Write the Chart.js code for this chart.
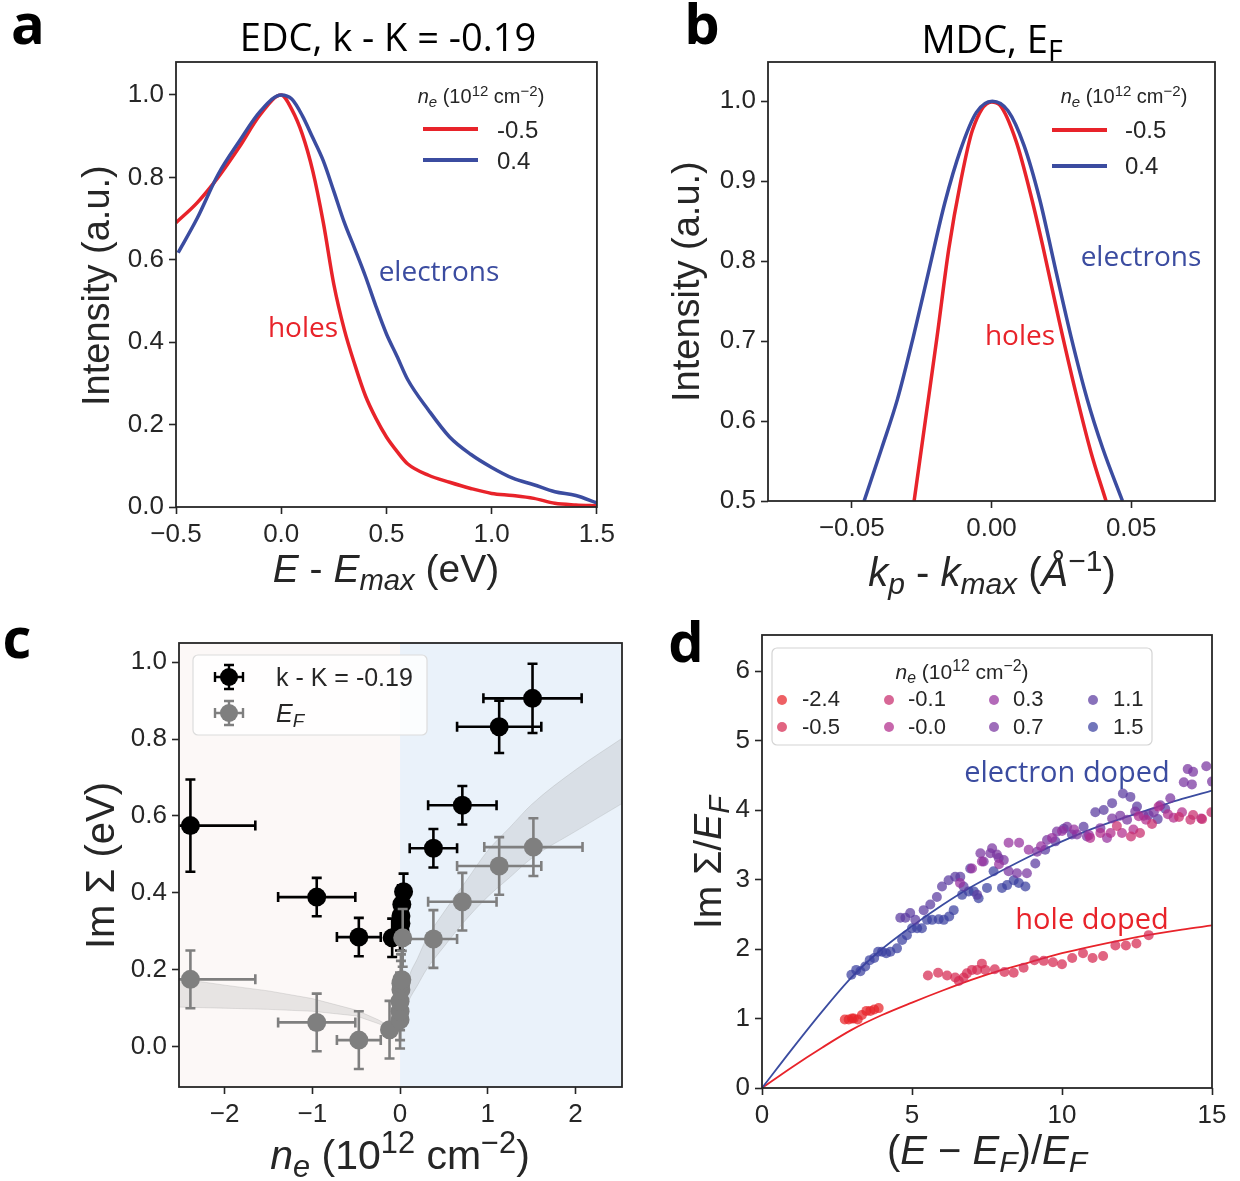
<!DOCTYPE html>
<html>
<head>
<meta charset="utf-8">
<script src="https://cdn.jsdelivr.net/npm/chart.js@4.4.0/dist/chart.umd.min.js"></script>
<style>
    body { margin: 0; background: #fff; }
    #page { position: relative; width: 1240px; height: 1181px; overflow: hidden; font-family: "Liberation Sans", Arial, sans-serif; color: #222; }
    canvas { position: absolute; }
    .t { position: absolute; white-space: nowrap; line-height: 1; }
    .t sub { font-size: 0.75em; vertical-align: -0.28em; line-height: 0; }
    .t sup { font-size: 0.75em; vertical-align: 0.5em; line-height: 0; }
    .os { font-family: "Open Sans", sans-serif; }
</style>
</head>
<body>
<div id="page">
    <canvas id="cA" width="620" height="600" style="left:0;top:0"></canvas>
    <canvas id="cB" width="620" height="600" style="left:620px;top:0"></canvas>
    <canvas id="cC" width="640" height="581" style="left:0;top:600px"></canvas>
    <canvas id="cD" width="600" height="581" style="left:640px;top:600px"></canvas>
</div>
<script>
// ---- panel a : EDC at k - K = -0.19
const edcE = [-0.5, -0.4, -0.3, -0.2, -0.1, 0, 0.05, 0.1, 0.15, 0.2, 0.25, 0.3, 0.35, 0.4, 0.45, 0.5, 0.55, 0.6, 0.7, 0.8, 0.9, 1.0, 1.1, 1.2, 1.3, 1.4, 1.5];
const edcHoles = [0.69, 0.738, 0.80, 0.873, 0.952, 1.0, 0.965, 0.905, 0.815, 0.69, 0.54, 0.43, 0.345, 0.27, 0.215, 0.17, 0.135, 0.105, 0.077, 0.06, 0.045, 0.033, 0.028, 0.021, 0.009, 0.005, 0.003];
const edcElectrons = [0.617, 0.70, 0.807, 0.887, 0.96, 1.0, 0.99, 0.95, 0.896, 0.84, 0.766, 0.69, 0.626, 0.56, 0.487, 0.42, 0.366, 0.31, 0.235, 0.17, 0.128, 0.096, 0.07, 0.054, 0.037, 0.028, 0.01];
const edcTicksX = [-0.5, 0, 0.5, 1.0, 1.5];
const edcTicksY = [0, 0.2, 0.4, 0.6, 0.8, 1.0];

// ---- panel b : MDC at E_F
const mdcHolesK = [-0.0277, -0.0237, -0.0195, -0.0153, -0.011, -0.0068, 0, 0.003, 0.0088, 0.0144, 0.0186, 0.0243, 0.030, 0.0356, 0.041];
const mdcHolesI = [0.5, 0.6, 0.705, 0.815, 0.90, 0.964, 0.999, 0.995, 0.95, 0.878, 0.815, 0.724, 0.638, 0.561, 0.5];
const mdcElecK = [-0.0456, -0.0393, -0.0336, -0.028, -0.0223, -0.0167, -0.011, -0.0054, 0.0003, 0.0059, 0.0116, 0.0172, 0.0229, 0.0285, 0.0342, 0.0398, 0.0469];
const mdcElecI = [0.5, 0.566, 0.628, 0.705, 0.79, 0.873, 0.94, 0.986, 1.0, 0.988, 0.945, 0.878, 0.79, 0.705, 0.628, 0.566, 0.5];
const mdcTicksX = [-0.05, 0, 0.05];
const mdcTicksY = [0.5, 0.6, 0.7, 0.8, 0.9, 1.0];

// ---- panel c : Im Sigma vs n_e
const kkN = [-2.39, -0.95, -0.47, -0.09, 0.00, 0.01, 0.01, 0.02, 0.04, 0.38, 0.71, 1.13, 1.51];
const kkIm = [0.575, 0.389, 0.285, 0.283, 0.30, 0.32, 0.34, 0.37, 0.403, 0.516, 0.628, 0.832, 0.906];
const kkNErr = [0.74, 0.44, 0.25, 0.05, 0.03, 0.03, 0.03, 0.03, 0.05, 0.27, 0.39, 0.48, 0.56];
const kkImErr = [0.12, 0.05, 0.05, 0.05, 0.05, 0.05, 0.05, 0.05, 0.047, 0.05, 0.05, 0.068, 0.09];
const efN = [-2.39, -0.95, -0.47, -0.12, 0.00, 0.00, 0.00, 0.01, 0.01, 0.02, 0.03, 0.38, 0.71, 1.13, 1.52];
const efIm = [0.175, 0.063, 0.017, 0.044, 0.07, 0.092, 0.118, 0.148, 0.165, 0.174, 0.283, 0.28, 0.377, 0.47, 0.519];
const efNErr = [0.74, 0.44, 0.25, 0.05, 0.03, 0.03, 0.03, 0.03, 0.03, 0.03, 0.03, 0.27, 0.39, 0.48, 0.56];
const efImErr = [0.075, 0.075, 0.075, 0.075, 0.075, 0.075, 0.075, 0.075, 0.075, 0.075, 0.075, 0.075, 0.075, 0.075, 0.075];
const bandLeftN = [-2.55, -2.0, -1.5, -1.0, -0.5, -0.25, -0.1];
const bandLeftLo = [0.103, 0.10, 0.097, 0.092, 0.08, 0.06, 0.045];
const bandLeftHi = [0.178, 0.16, 0.145, 0.125, 0.095, 0.07, 0.05];
const bandRightN = [0.0, 0.05, 0.1, 0.2, 0.3, 0.5, 0.75, 1.0, 1.25, 1.5, 2.0, 2.55];
const bandRightLo = [0.04, 0.09, 0.12, 0.16, 0.20, 0.26, 0.33, 0.39, 0.44, 0.49, 0.56, 0.635];
const bandRightHi = [0.05, 0.13, 0.18, 0.23, 0.28, 0.35, 0.43, 0.51, 0.57, 0.63, 0.72, 0.805];
const imTicksX = [-2, -1, 0, 1, 2];
const imTicksY = [0, 0.2, 0.4, 0.6, 0.8, 1.0];

// ---- panel d : Im Sigma / E_F vs (E - E_F)/E_F
const dopings = ['-2.4', '-0.5', '-0.1', '-0.0', '0.3', '0.7', '1.1', '1.5'];
const dopingColors = ['rgba(232,34,40,0.72)', 'rgba(214,40,80,0.72)', 'rgba(200,45,110,0.72)', 'rgba(178,45,140,0.72)',
    'rgba(150,48,158,0.72)', 'rgba(120,52,160,0.72)', 'rgba(90,58,160,0.72)', 'rgba(58,64,160,0.72)'];
const sigX = [
    [2.76, 2.89, 3.0, 3.06, 3.19, 3.33, 3.48, 3.61, 3.74, 3.89],
    [5.53, 5.87, 6.17, 6.44, 6.56, 6.72, 6.83, 7.0, 7.17, 7.33, 7.44, 7.76, 8.08, 8.39, 8.72, 9.08, 9.39, 9.70, 10.0, 10.34, 10.7, 11.02, 11.37, 11.78, 12.13, 12.48, 12.89],
    [11.83, 12.3, 12.6, 13.0, 13.9, 14.28, 14.37, 14.67, 14.98],
    [10.94, 11.28, 11.62, 12.0, 12.38, 12.56, 12.8, 13.22, 13.53, 13.72, 14.0, 14.64],
    [6.6, 7.0, 7.33, 7.9, 8.22, 8.57, 8.89, 9.3, 9.67, 10.0, 10.4, 10.9, 11.5],
    [7.28, 7.39, 7.61, 7.67, 7.83, 7.89, 8.06, 8.22, 8.5, 8.83, 9.17, 9.5, 9.83, 10.17, 10.5, 10.83, 11.28, 11.67, 11.94, 12.17, 12.44, 12.72, 13.06, 13.28, 13.61, 14.06, 14.19, 14.37, 14.33, 14.81, 15.0],
    [4.61, 4.78, 4.94, 5.11, 5.39, 5.61, 5.83, 6.0, 6.22, 6.44, 6.61, 6.72, 6.94, 7.17, 9.11, 9.44, 9.78, 10.06, 10.33, 10.72, 11.11, 11.39, 11.67, 12.03, 12.28, 12.5, 12.89, 13.19, 13.44],
    [2.98, 3.14, 3.28, 3.44, 3.59, 3.74, 3.87, 4.0, 4.14, 4.28, 4.5, 4.67, 4.83, 5.0, 5.17, 5.33, 5.5, 5.67, 5.89, 6.06, 6.24, 6.39, 6.67, 6.89, 7.06, 7.22, 7.5, 7.72, 8.0, 8.17, 8.39, 8.56, 8.78]
];
const sigY = [
    [0.985, 0.985, 1.0, 1.0, 0.985, 1.05, 1.11, 1.11, 1.13, 1.15],
    [1.62, 1.66, 1.62, 1.59, 1.54, 1.59, 1.65, 1.70, 1.70, 1.79, 1.70, 1.71, 1.67, 1.66, 1.73, 1.84, 1.83, 1.81, 1.78, 1.87, 1.94, 1.87, 1.90, 2.05, 2.05, 2.08, 2.20],
    [3.77, 3.62, 3.67, 3.80, 3.90, 3.86, 3.93, 3.87, 3.97],
    [3.60, 3.67, 3.67, 3.67, 3.72, 3.91, 3.86, 4.05, 3.94, 3.89, 3.97, 3.88],
    [2.95, 3.16, 3.26, 3.22, 3.53, 3.53, 3.43, 3.48, 3.60, 3.70, 3.72, 3.64, 3.60],
    [3.38, 3.26, 3.38, 3.45, 3.36, 3.31, 3.28, 3.12, 3.09, 3.09, 3.40, 3.57, 3.69, 3.76, 3.65, 3.62, 3.74, 3.88, 3.92, 3.86, 3.98, 3.92, 3.97, 4.07, 4.17, 4.40, 4.59, 4.55, 4.37, 4.63, 4.41],
    [2.45, 2.45, 2.52, 2.42, 2.56, 2.64, 2.75, 2.90, 2.99, 3.04, 3.04, 2.90, 3.16, 2.78, 3.23, 3.43, 3.55, 3.73, 3.65, 3.76, 3.97, 4.0, 4.1, 4.24, 4.19, 4.05, 3.93, 3.87, 4.02],
    [1.63, 1.70, 1.68, 1.75, 1.84, 1.87, 1.96, 1.96, 1.94, 1.96, 2.01, 2.13, 2.20, 2.30, 2.30, 2.30, 2.42, 2.42, 2.43, 2.42, 2.47, 2.56, 2.78, 2.83, 2.83, 2.73, 2.88, 3.12, 2.88, 2.92, 2.99, 2.95, 2.90]
];
const fitX = [0, 1, 2, 3, 4, 5, 6, 7, 8, 9, 10, 11, 12, 13, 14, 15];
const fitElectron = [0, 0.56, 1.1, 1.6, 2.0, 2.33, 2.63, 2.9, 3.13, 3.35, 3.55, 3.73, 3.88, 4.02, 4.16, 4.28];
const fitHole = [0, 0.3, 0.58, 0.84, 1.05, 1.23, 1.4, 1.56, 1.7, 1.82, 1.94, 2.04, 2.13, 2.21, 2.28, 2.34];
const sigTicksX = [0, 5, 10, 15];
const sigTicksY = [0, 1, 2, 3, 4, 5, 6];

const RED = '#e8232a';
const BLUE = '#3b4ca0';
const INK = '#262626';

function pts(xs, ys) { return xs.map((x, i) => ({ x: x, y: ys[i] })); }
function fmt(v, dec) { return v.toFixed(dec).replace('-', '\u2212'); }

function axis(min, max, ticks, dec, size, horizontal) {
    return {
        type: 'linear', min: min, max: max,
        afterBuildTicks: function (s) { s.ticks = ticks.map(v => ({ value: v })); },
        afterFit: function (s) { if (horizontal) s.height = size; else s.width = size; },
        grid: { drawOnChartArea: false, drawTicks: true, tickLength: 7, tickWidth: 1.6, tickColor: INK },
        border: { display: false },
        ticks: { font: { family: '"Liberation Sans", Arial, sans-serif', size: 26 }, color: INK, padding: 5, maxRotation: 0, autoSkip: false, callback: v => fmt(v, dec) }
    };
}

const framePlugin = {
    id: 'frame',
    afterDatasetsDraw: function (chart) {
        const a = chart.chartArea, c = chart.ctx;
        c.save();
        c.strokeStyle = INK;
        c.lineWidth = 1.8;
        c.strokeRect(a.left, a.top, a.right - a.left, a.bottom - a.top);
        c.restore();
    }
};

function baseOptions(pad, xAx, yAx) {
    return {
        responsive: false, maintainAspectRatio: false, animation: false,
        layout: { padding: pad },
        plugins: { legend: { display: false }, tooltip: { enabled: false } },
        scales: { x: xAx, y: yAx }
    };
}

function lineLegend(x0, x1, ys, colors) {
    return {
        id: 'lineLegend',
        afterDraw: function (chart) {
            const c = chart.ctx;
            c.save();
            c.lineWidth = 4;
            ys.forEach((y, i) => {
                c.strokeStyle = colors[i];
                c.beginPath(); c.moveTo(x0, y); c.lineTo(x1, y); c.stroke();
            });
            c.restore();
        }
    };
}

// panel a
new Chart(document.getElementById('cA'), {
    type: 'scatter',
    data: {
        datasets: [
            { data: pts(edcE, edcHoles), showLine: true, borderColor: RED, borderWidth: 3.5, pointRadius: 0, cubicInterpolationMode: 'monotone', order: 1 },
            { data: pts(edcE, edcElectrons).map((p, i) => i === 0 ? { x: -0.49, y: p.y } : p), showLine: true, borderColor: BLUE, borderWidth: 3.5, pointRadius: 0, cubicInterpolationMode: 'monotone', order: 0 }
        ]
    },
    options: baseOptions({ left: 0, top: 62, right: 23, bottom: 0 },
        axis(-0.5, 1.5, edcTicksX, 1, 93, true), axis(0, 1.08, edcTicksY, 1, 176, false)),
    plugins: [framePlugin, lineLegend(423, 478, [129, 160], [RED, BLUE])]
});

// panel b
new Chart(document.getElementById('cB'), {
    type: 'scatter',
    data: {
        datasets: [
            { data: pts(mdcHolesK, mdcHolesI), showLine: true, borderColor: RED, borderWidth: 3.5, pointRadius: 0, cubicInterpolationMode: 'monotone', order: 1 },
            { data: pts(mdcElecK, mdcElecI), showLine: true, borderColor: BLUE, borderWidth: 3.5, pointRadius: 0, cubicInterpolationMode: 'monotone', order: 0 }
        ]
    },
    options: baseOptions({ left: 0, top: 62, right: 25, bottom: 0 },
        axis(-0.08, 0.08, mdcTicksX, 2, 99, true), axis(0.5, 1.049, mdcTicksY, 1, 148, false)),
    plugins: [framePlugin, lineLegend(432, 487, [130, 166], [RED, BLUE])]
});

// panel c
function drawErrBar(c, px, py, xl, xr, yt, yb, color, cap) {
    c.strokeStyle = color;
    c.beginPath();
    c.moveTo(xl, py); c.lineTo(xr, py);
    c.moveTo(px, yt); c.lineTo(px, yb);
    c.moveTo(xl, py - cap); c.lineTo(xl, py + cap);
    c.moveTo(xr, py - cap); c.lineTo(xr, py + cap);
    c.moveTo(px - cap, yt); c.lineTo(px + cap, yt);
    c.moveTo(px - cap, yb); c.lineTo(px + cap, yb);
    c.stroke();
}

const errorBarPlugin = {
    id: 'errorBars',
    beforeDatasetsDraw: function (chart) {
        const a = chart.chartArea, c = chart.ctx, xs = chart.scales.x;
        const x0 = xs.getPixelForValue(0);
        c.save();
        c.fillStyle = '#fcf8f7';
        c.fillRect(a.left, a.top, x0 - a.left, a.bottom - a.top);
        c.fillStyle = '#eaf2fa';
        c.fillRect(x0, a.top, a.right - x0, a.bottom - a.top);
        c.restore();
    },
    beforeDatasetDraw: function (chart, args) {
        const ds = chart.data.datasets[args.index];
        if (!ds.xErr) return;
        const a = chart.chartArea, c = chart.ctx, xs = chart.scales.x, ys = chart.scales.y;
        c.save();
        c.beginPath(); c.rect(a.left, a.top, a.right - a.left, a.bottom - a.top); c.clip();
        c.lineWidth = 2.6;
        ds.data.forEach((p, i) => {
            drawErrBar(c, xs.getPixelForValue(p.x), ys.getPixelForValue(p.y),
                xs.getPixelForValue(p.x - ds.xErr[i]), xs.getPixelForValue(p.x + ds.xErr[i]),
                ys.getPixelForValue(p.y + ds.yErr[i]), ys.getPixelForValue(p.y - ds.yErr[i]), ds.backgroundColor, 5);
        });
        c.restore();
    },
    afterDraw: function (chart) {
        const c = chart.ctx;
        c.save();
        c.fillStyle = 'rgba(255,255,255,0.8)';
        c.strokeStyle = '#dcdcdc';
        c.lineWidth = 1.2;
        c.beginPath(); c.roundRect(193, 55, 234, 80, 5); c.fill(); c.stroke();
        c.lineWidth = 2.4;
        [['#000000', 77], ['#7f7f7f', 113]].forEach(([col, y]) => {
            drawErrBar(c, 229, y, 215, 243, y - 12, y + 12, col, 5);
            c.fillStyle = col;
            c.beginPath(); c.arc(229, y, 9, 0, Math.PI * 2); c.fill();
        });
        c.restore();
    }
};

const bandStyle = { type: 'line', pointRadius: 0, borderWidth: 1, borderColor: 'rgba(150,150,150,0.25)', backgroundColor: 'rgba(150,150,150,0.2)', order: 2 };
new Chart(document.getElementById('cC'), {
    type: 'scatter',
    data: {
        datasets: [
            Object.assign({ data: pts(bandLeftN, bandLeftHi), fill: '+1' }, bandStyle),
            Object.assign({ data: pts(bandLeftN, bandLeftLo), fill: false }, bandStyle),
            Object.assign({ data: pts(bandRightN, bandRightHi), fill: '+1', cubicInterpolationMode: 'monotone' }, bandStyle),
            Object.assign({ data: pts(bandRightN, bandRightLo), fill: false, cubicInterpolationMode: 'monotone' }, bandStyle),
            { data: pts(kkN, kkIm), xErr: kkNErr, yErr: kkImErr, backgroundColor: '#000000', borderWidth: 0, pointRadius: 9.5, order: 1 },
            { data: pts(efN, efIm), xErr: efNErr, yErr: efImErr, backgroundColor: '#7f7f7f', borderWidth: 0, pointRadius: 9.5, order: 0 }
        ]
    },
    options: baseOptions({ left: 0, top: 43, right: 18, bottom: 0 },
        axis(-2.52, 2.53, imTicksX, 0, 94, true), axis(-0.105, 1.05, imTicksY, 1, 179, false)),
    plugins: [errorBarPlugin, framePlugin]
});

// panel d
const dotLegend = {
    id: 'dotLegend',
    afterDraw: function (chart) {
        const c = chart.ctx;
        c.save();
        c.fillStyle = 'rgba(255,255,255,0.8)';
        c.strokeStyle = '#d4d4d4';
        c.lineWidth = 1.2;
        c.beginPath(); c.roundRect(132, 48, 380, 97, 5); c.fill(); c.stroke();
        const cx = [142, 249, 354, 453], cy = [100, 127];
        dopingColors.forEach((col, i) => {
            c.fillStyle = col;
            c.beginPath(); c.arc(cx[Math.floor(i / 2)], cy[i % 2], 5, 0, Math.PI * 2); c.fill();
        });
        c.restore();
    }
};

const dDatasets = dopings.map((d, i) => ({ data: pts(sigX[i], sigY[i]), backgroundColor: dopingColors[i], borderWidth: 0, pointRadius: 5, order: 0 }));
dDatasets.push({ type: 'line', data: pts(fitX, fitElectron), borderColor: BLUE, borderWidth: 1.8, pointRadius: 0, cubicInterpolationMode: 'monotone', order: 1 });
dDatasets.push({ type: 'line', data: pts(fitX, fitHole), borderColor: RED, borderWidth: 1.8, pointRadius: 0, cubicInterpolationMode: 'monotone', order: 1 });

new Chart(document.getElementById('cD'), {
    type: 'scatter',
    data: { datasets: dDatasets },
    options: baseOptions({ left: 0, top: 35, right: 28, bottom: 0 },
        axis(0, 15, sigTicksX, 0, 93, true), axis(0, 6.52, sigTicksY, 0, 122, false)),
    plugins: [framePlugin, dotLegend]
});

// ---- text
const page = document.getElementById('page');
function addText(html, x, y, size, opts) {
    opts = opts || {};
    const el = document.createElement('div');
    el.className = 't' + (opts.os ? ' os' : '');
    el.innerHTML = html;
    el.style.fontSize = size + 'px';
    if (opts.bold) el.style.fontWeight = '700';
    el.style.color = opts.color || INK;
    el.style.left = x + 'px';
    el.style.top = y + 'px';
    const tx = opts.left ? '0' : '-50%';
    el.style.transform = 'translate(' + tx + ',-50%)';
    page.appendChild(el);
    if (opts.rot) {
        el.style.transformOrigin = '0 0';
        el.style.transform = 'rotate(-90deg)';
        el.style.left = (x - el.offsetHeight / 2) + 'px';
        el.style.top = (y + el.offsetWidth / 2) + 'px';
    }
}
const neLabel = '<i>n<sub>e</sub></i> (10<sup>12</sup> cm<sup>\u22122</sup>)';

addText('a', 28, 22, 56, { os: true, bold: true, color: '#000' });
addText('b', 702, 22, 56, { os: true, bold: true, color: '#000' });
addText('c', 17, 636, 56, { os: true, bold: true, color: '#000' });
addText('d', 686, 640, 56, { os: true, bold: true, color: '#000' });
addText('EDC, k - K = -0.19', 388, 36, 38, { os: true, color: '#000' });
addText('MDC, E<sub>F</sub>', 992, 38, 38, { os: true, color: '#000' });

addText('Intensity (a.u.)', 96, 285, 38, { rot: true });
addText('<i>E</i> - <i>E<sub>max</sub></i> (eV)', 386, 568, 39);
addText(neLabel, 481, 96, 20);
addText('-0.5', 497, 130, 24, { left: true });
addText('0.4', 497, 161, 24, { left: true });
addText('electrons', 439, 270, 28, { os: true, color: BLUE });
addText('holes', 303, 326, 28, { os: true, color: RED });

addText('Intensity (a.u.)', 686, 281, 38, { rot: true });
addText('<i>k<sub>p</sub></i> - <i>k<sub>max</sub></i> (<i>\u00c5</i><sup>\u22121</sup>)', 992, 572, 40);
addText(neLabel, 1124, 96, 20);
addText('-0.5', 1125, 130, 24, { left: true });
addText('0.4', 1125, 166, 24, { left: true });
addText('electrons', 1141, 255, 28, { os: true, color: BLUE });
addText('holes', 1020, 334, 28, { os: true, color: RED });

addText('Im \u03a3 (eV)', 100, 865, 40, { rot: true });
addText(neLabel, 400, 1155, 41);
addText('k - K = -0.19', 276, 677, 25, { left: true });
addText('<i>E<sub>F</sub></i>', 276, 713, 25, { left: true });

addText('Im \u03a3/<i>E<sub>F</sub></i>', 707, 862, 39, { rot: true });
addText('(<i>E</i> \u2212 <i>E<sub>F</sub></i>)/<i>E<sub>F</sub></i>', 987, 1150, 40);
addText(neLabel, 962, 671, 21);
const legCols = [802, 908, 1013, 1113], legRows = [699, 727];
dopings.forEach((d, i) => addText(d, legCols[Math.floor(i / 2)], legRows[i % 2], 22, { left: true }));
addText('electron doped', 1067, 770, 29, { os: true, color: BLUE });
addText('hole doped', 1092, 917, 29, { os: true, color: RED });
</script>
</body>
</html>
